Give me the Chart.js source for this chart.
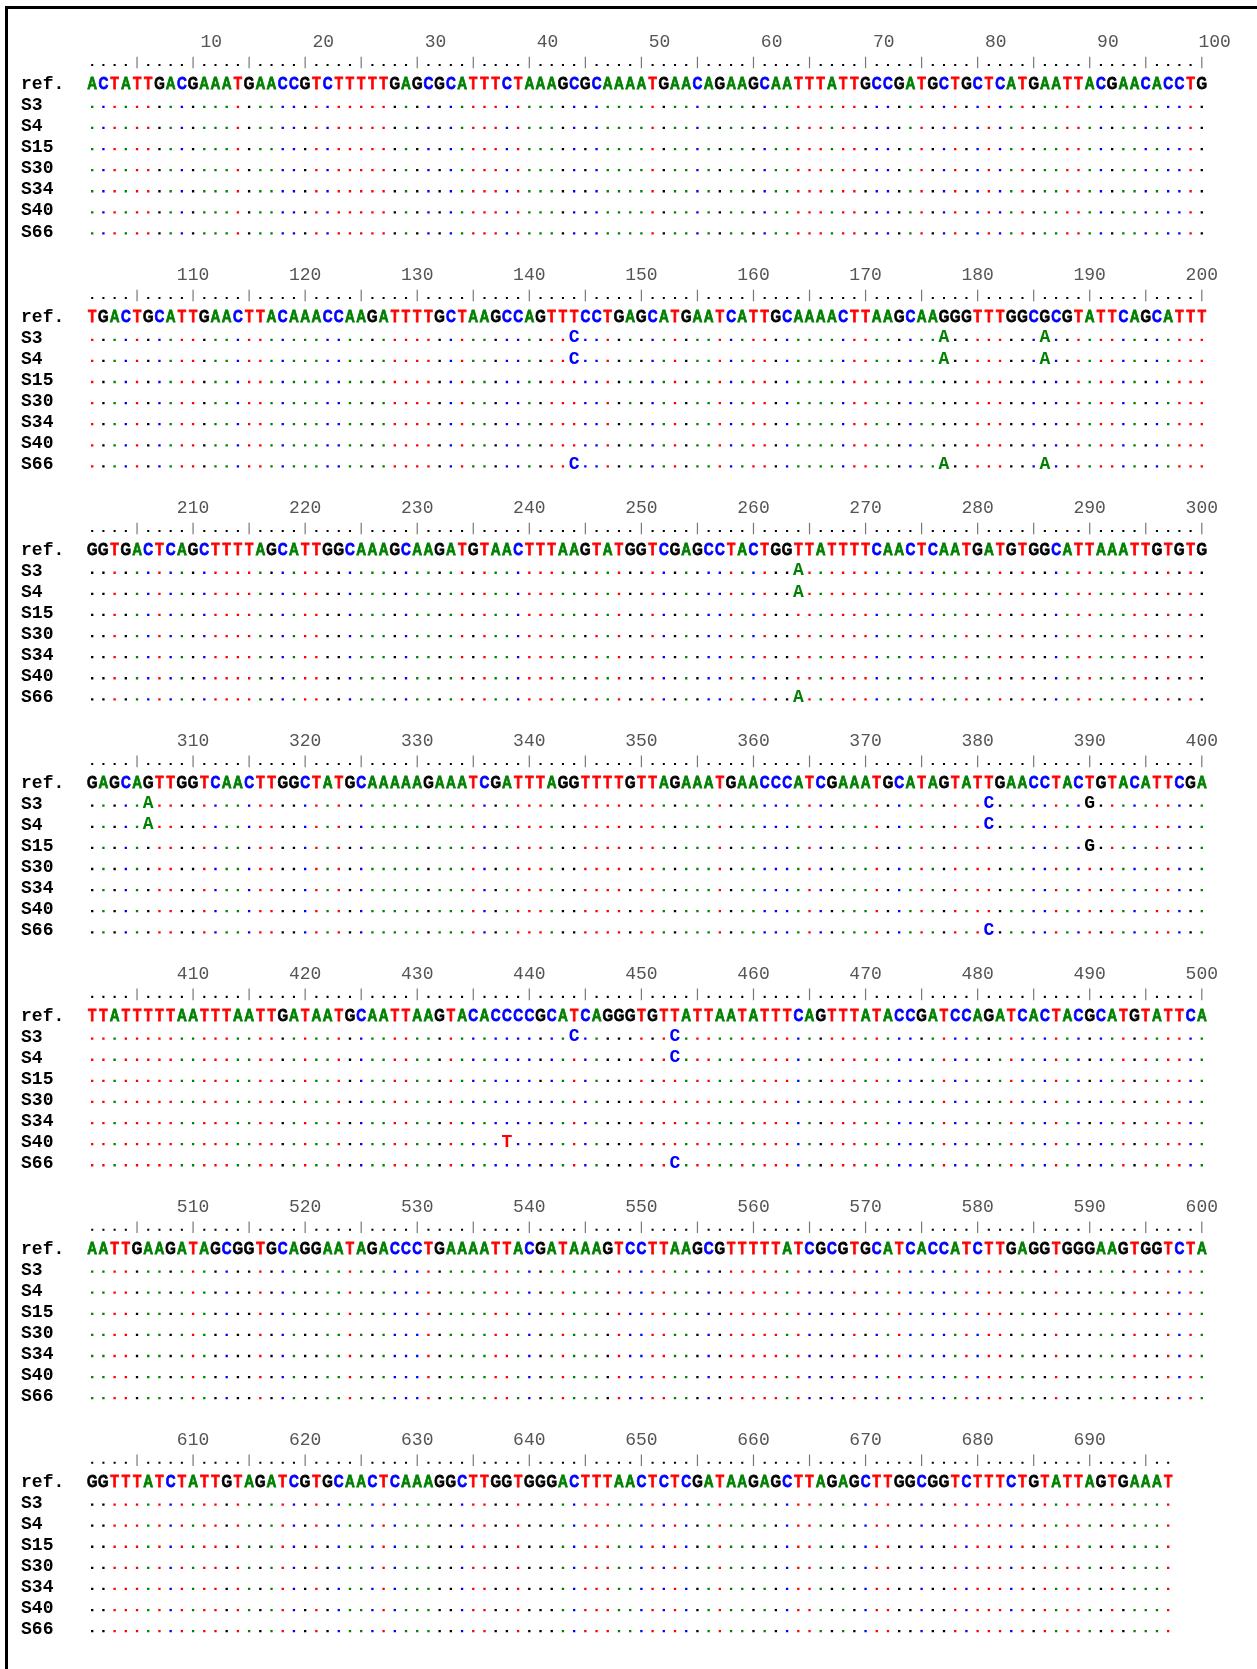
<!DOCTYPE html>
<html>
<head>
<meta charset="utf-8">
<script src="https://cdn.jsdelivr.net/npm/chart.js@4.4.0/dist/chart.umd.min.js"></script>
<style>
  html, body { margin: 0; padding: 0; background: #fff; }
  #wrap { position: relative; width: 1257px; height: 1669px; overflow: hidden; }
  #frame { position: absolute; left: 5px; top: 6px; right: -10px; bottom: -10px; border-top: 3px solid #000; border-left: 3px solid #000; }
  canvas { position: absolute; left: 0; top: 0; }
</style>
</head>
<body>
<div id="wrap"><div id="frame"></div><canvas id="aln" width="1257" height="1669"></canvas></div>
<script>
// reference sequence, 100 bases per block
var refBlocks = [
  "ACTATTGACGAAATGAACCGTCTTTTTGAGCGCATTTCTAAAGCGCAAAATGAACAGAAGCAATTTATTGCCGATGCTGCTCATGAATTACGAACACCTG",
  "TGACTGCATTGAACTTACAAACCAAGATTTTGCTAAGCCAGTTTCCTGAGCATGAATCATTGCAAAACTTAAGCAAGGGTTTGGCGCGTATTCAGCATTT",
  "GGTGACTCAGCTTTTAGCATTGGCAAAGCAAGATGTAACTTTAAGTATGGTCGAGCCTACTGGTTATTTTCAACTCAATGATGTGGCATTAAATTGTGTG",
  "GAGCAGTTGGTCAACTTGGCTATGCAAAAAGAAATCGATTTAGGTTTTGTTAGAAATGAACCCATCGAAATGCATAGTATTGAACCTACTGTACATTCGA",
  "TTATTTTTAATTTAATTGATAATGCAATTAAGTACACCCCGCATCAGGGTGTTATTAATATTTCAGTTTATACCGATCCAGATCACTACGCATGTATTCA",
  "AATTGAAGATAGCGGTGCAGGAATAGACCCTGAAAATTACGATAAAGTCCTTAAGCGTTTTTATCGCGTGCATCACCATCTTGAGGTGGGAAGTGGTCTA",
  "GGTTTATCTATTGTAGATCGTGCAACTCAAAGGCTTGGTGGGACTTTAACTCTCGATAAGAGCTTAGAGCTTGGCGGTCTTTCTGTATTAGTGAAAT"
];

var sampleNames = ["S3", "S4", "S15", "S30", "S34", "S40", "S66"];

// differences from ref (sample, position, base)
var varSample = ["S3", "S3", "S3", "S3", "S3", "S3", "S3", "S3", "S3",
                 "S4", "S4", "S4", "S4", "S4", "S4", "S4",
                 "S15", "S40",
                 "S66", "S66", "S66", "S66", "S66", "S66"];
var varPos = [144, 177, 186, 264, 306, 381, 390, 444, 453,
              144, 177, 186, 264, 306, 381, 453,
              390, 438,
              144, 177, 186, 264, 381, 453];
var varBase = ["C", "A", "A", "A", "A", "C", "G", "C", "C",
               "C", "A", "A", "A", "A", "C", "C",
               "G", "T",
               "C", "A", "A", "A", "C", "C"];

var rulerLabels = [10, 20, 30, 40, 50, 60, 70, 80, 90, 100,
  110, 120, 130, 140, 150, 160, 170, 180, 190, 200,
  210, 220, 230, 240, 250, 260, 270, 280, 290, 300,
  310, 320, 330, 340, 350, 360, 370, 380, 390, 400,
  410, 420, 430, 440, 450, 460, 470, 480, 490, 500,
  510, 520, 530, 540, 550, 560, 570, 580, 590, 600,
  610, 620, 630, 640, 650, 660, 670, 680, 690];

var COLS = 100;
var BLOCK_ROWS = 11.04;
var baseColor = { A: "#008000", C: "#0000ff", G: "#000000", T: "#ff0000" };
var refSeq = refBlocks.join("");

function colOf(p) { return ((p - 1) % COLS) + 1; }
function blockOf(p) { return Math.floor((p - 1) / COLS); }

var variants = {};
for (var v = 0; v < varPos.length; v++) {
  variants[varSample[v] + "_" + varPos[v]] = varBase[v];
}

var refPts = [], dotPts = [], dotColors = [], mutPts = [];
var rulerDots = [], rulerBars = [], numPts = [], namePts = [];

for (var p = 1; p <= refSeq.length; p++) {
  var b = blockOf(p), c = colOf(p), base = refSeq[p - 1];
  refPts.push({ x: c, y: b * BLOCK_ROWS, t: base });
  if (c % 5 === 0) rulerBars.push({ x: c, y: b * BLOCK_ROWS - 0.97 });
  else rulerDots.push({ x: c, y: b * BLOCK_ROWS - 0.85 });
  sampleNames.forEach(function (s, i) {
    var alt = variants[s + "_" + p];
    if (alt) {
      mutPts.push({ x: c, y: b * BLOCK_ROWS + i + 1, t: alt });
    } else {
      dotPts.push({ x: c, y: b * BLOCK_ROWS + i + 1.13 });
      dotColors.push(baseColor[base]);
    }
  });
}

rulerLabels.forEach(function (n) {
  numPts.push({ x: colOf(n), y: blockOf(n) * BLOCK_ROWS - 2, t: String(n), first: n <= COLS });
});

for (var bl = 0; bl < refBlocks.length; bl++) {
  ["ref."].concat(sampleNames).forEach(function (name, r) {
    namePts.push({ x: -5.35, y: bl * BLOCK_ROWS + r, t: name });
  });
}

// draws the text attached to each point at the position the scales gave it
var seqText = {
  id: "seqText",
  afterDatasetsDraw(chart) {
    var ctx = chart.ctx;
    chart.data.datasets.forEach(function (ds, i) {
      if (!ds.textFont) return;
      var meta = chart.getDatasetMeta(i);
      ctx.save();
      ctx.font = ds.textFont;
      ctx.textBaseline = "alphabetic";
      meta.data.forEach(function (pt, j) {
        var d = ds.data[j];
        ctx.fillStyle = ds.textColor || baseColor[d.t];
        var x = pt.x, y = pt.y + ds.textDy;
        if (ds.textAlign === "left") {
          ctx.textAlign = "left";
          ctx.fillText(d.t, x, y);
        } else if (d.first) {
          ctx.textAlign = "right";
          ctx.fillText(d.t, x + 29, y);
        } else {
          ctx.textAlign = "center";
          if (ds.squeeze) {
            ctx.save();
            ctx.translate(x, y);
            ctx.scale(ds.squeeze, 1);
            ctx.fillText(d.t, 0, 0);
            if (ds.heavy) {
              // a thin outline makes the letters as heavy as the original
              ctx.strokeStyle = ctx.fillStyle;
              ctx.lineWidth = ds.heavy;
              ctx.strokeText(d.t, 0, 0);
            }
            ctx.restore();
          } else {
            ctx.fillText(d.t, x, y);
          }
        }
      });
      ctx.restore();
    });
  }
};

new Chart(document.getElementById("aln"), {
  type: "scatter",
  data: {
    datasets: [
      {
        label: "dots",
        data: dotPts,
        pointStyle: "rect",
        pointRadius: 1.65,
        pointBorderWidth: 0,
        pointBackgroundColor: dotColors
      },
      {
        label: "ruler dots",
        data: rulerDots,
        pointStyle: "rect",
        pointRadius: 1.45,
        pointBorderWidth: 0,
        pointBackgroundColor: "#000"
      },
      {
        label: "ruler bars",
        data: rulerBars,
        pointStyle: "line",
        rotation: 90,
        pointRadius: 5.8,
        pointBorderWidth: 1.2,
        pointBorderColor: "#777"
      },
      {
        label: "ref",
        data: refPts,
        pointRadius: 0,
        textFont: "bold 17px 'Liberation Sans'",
        textDy: 6.1,
        squeeze: 0.8,
        heavy: 0.8
      },
      {
        label: "variants",
        data: mutPts,
        pointRadius: 0,
        textFont: "bold 18px 'Liberation Mono'",
        textDy: 5.4
      },
      {
        label: "numbers",
        data: numPts,
        pointRadius: 0,
        textFont: "18px 'Liberation Mono'",
        textColor: "#555",
        textDy: 6
      },
      {
        label: "names",
        data: namePts,
        pointRadius: 0,
        textFont: "bold 18px 'Liberation Mono'",
        textColor: "#000",
        textAlign: "left",
        textDy: 5.8
      }
    ]
  },
  options: {
    responsive: false,
    animation: false,
    events: [],
    layout: { padding: { left: 86.6, right: 49.6, top: 9.15, bottom: 14 } },
    plugins: { legend: { display: false }, tooltip: { enabled: false } },
    scales: {
      x: { type: "linear", display: false, min: 0.5, max: 100.5 },
      y: { type: "linear", display: false, reverse: true, min: -3.5, max: 74.5 }
    }
  },
  plugins: [seqText]
});
</script>
</body>
</html>
